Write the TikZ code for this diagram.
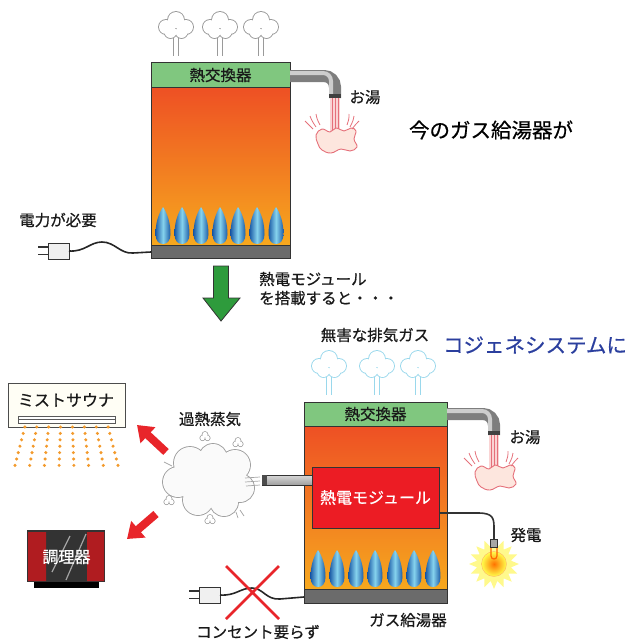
\documentclass[tikz,border=0pt]{standalone}
\usepackage{fontspec}
\setmainfont{Noto Sans CJK JP}[FakeBold=0.6]
\usetikzlibrary{arrows.meta,shapes.geometric}

\definecolor{hxgreen}{HTML}{80C77F}
\definecolor{hottop}{HTML}{EE5024}
\definecolor{hotbot}{HTML}{F6A81E}
\definecolor{basegray}{HTML}{6B6B6B}
\definecolor{flameblue}{HTML}{1C5BA6}
\definecolor{flamelight}{HTML}{86D3EE}
\definecolor{hotred}{HTML}{E8252A}
\definecolor{pipemid}{HTML}{7E7E7E}
\definecolor{pipelight}{HTML}{CDCDCD}
\definecolor{waterpink}{HTML}{E5707A}
\definecolor{streampink}{HTML}{FAD4D4}
\definecolor{splashfill}{HTML}{FDE6DE}
\definecolor{exhaustblue}{HTML}{9AD8EC}
\definecolor{smokegray}{HTML}{9A9A9A}
\definecolor{cogenblue}{HTML}{2B3F9E}
\definecolor{mistdot}{HTML}{F39A2C}
\definecolor{arrowgreen}{HTML}{2E9B3C}
\definecolor{modulered}{HTML}{EC1C24}
\definecolor{cookred}{HTML}{B01C20}
\definecolor{outline}{HTML}{333333}

% exhaust puff with a twin-line stem: centre x, centre y, colour
\newcommand\puffcloud[3]{%
  \draw[#3, line width=0.9] ({#1-2.5},{#2+9}) -- ({#1-2.5},{#2+29})
                            ({#1+2.5},{#2+9}) -- ({#1+2.5},{#2+29});
  \draw[#3, line width=1.8] (#1,{#2-7}) circle[radius=8] ({#1-10},#2) circle[radius=7]
     ({#1+10},#2) circle[radius=7] ({#1-5.5},{#2+5}) circle[radius=6] ({#1+5.5},{#2+5}) circle[radius=6];
  \fill[white] (#1,{#2-7}) circle[radius=8] ({#1-10},#2) circle[radius=7]
     ({#1+10},#2) circle[radius=7] ({#1-5.5},{#2+5}) circle[radius=6] ({#1+5.5},{#2+5}) circle[radius=6];
}
% burner flame: centre x, tip y, base y
\newcommand\burnerflame[3]{%
  \shade[left color=flameblue, right color=flameblue, middle color=flamelight]
    (#1,#2) .. controls ({#1+4},{#2+6}) and ({#1+7.5},{#3-22}) .. ({#1+7.5},{#3-10})
    .. controls ({#1+7.5},{#3-3}) and ({#1+4},#3) .. (#1,#3)
    .. controls ({#1-4},#3) and ({#1-7.5},{#3-3}) .. ({#1-7.5},{#3-10})
    .. controls ({#1-7.5},{#3-22}) and ({#1-4},{#2+6}) .. (#1,#2) -- cycle;
}
% small steam puff
\newcommand\tinypuff[2]{%
  \draw[smokegray, line width=1.4] (#1,{#2-2.5}) circle[radius=2.6] ({#1-2.5},{#2+1}) circle[radius=2.3] ({#1+2.5},{#2+1}) circle[radius=2.3];
  \fill[white] (#1,{#2-2.5}) circle[radius=2.6] ({#1-2.5},{#2+1}) circle[radius=2.3] ({#1+2.5},{#2+1}) circle[radius=2.3];
}
% hot water stream and splash, drawn for a spout ending at (335,98)
\newcommand\hotwater{%
  \fill[streampink] (330,98) rectangle (340,131);
  \draw[waterpink, line width=0.7] (332,98) -- (332,131) (335,98) -- (335,131) (338,98) -- (338,131);
  \draw[waterpink, line width=0.9, fill=splashfill] plot[smooth cycle, tension=0.7] coordinates
    {(316,135) (322,129) (330,132) (336,128) (344,131) (351,128) (356,131) (354,139)
     (357,147) (350,151) (341,149) (331,153) (322,150) (318,144)};
  \draw[waterpink, line width=0.8]
    (305,121) .. controls (308,124) .. (313,129)
    (310,116) .. controls (312,121) .. (316,127)
    (316,114) .. controls (317,119) .. (320,125)
    (349,114) .. controls (349,119) .. (347,125)
    (354,116) .. controls (353,121) .. (350,127)
    (359,121) .. controls (356,124) .. (352,129);
}
% power plug body with prongs: left x of body, centre y
\newcommand\powerplug[2]{%
  \draw[outline, line width=1.2] ({#1-10},{#2-4}) -- (#1,{#2-4}) ({#1-10},{#2+3.5}) -- (#1,{#2+3.5});
  \draw[outline, line width=0.8, fill=gray!12] (#1,{#2-8}) rectangle ({#1+21},{#2+8});
}

\tikzset{
  lbl/.style={font=\fontsize{15.5}{19}\selectfont, inner sep=0pt, text=black!90},
  biglbl/.style={font=\fontsize{20.5}{24}\selectfont, inner sep=0pt},
  heaterline/.style={draw=outline, line width=1},
  redarrow/.style={hotred, line width=8pt, -{Triangle[width=21pt,length=15pt]}},
  cable/.style={black!85, line width=1.6},
}

\begin{document}
\begin{tikzpicture}[x=1pt,y=-1pt]
\useasboundingbox (0,0) rectangle (635,642);

% ---------- conventional water heater ----------
\puffcloud{176}{27}{smokegray}
\puffcloud{220}{27}{smokegray}
\puffcloud{261}{27}{smokegray}

\shade[top color=hottop, bottom color=hotbot] (151,87) rectangle (290,245);
\fill[hxgreen] (151,63) rectangle (290,87);
\fill[basegray] (151,245) rectangle (290,258);
\foreach \cx in {163,182,201,220,238,257,276} {\burnerflame{\cx}{207}{244}}
\draw[heaterline] (151,63) rectangle (290,258) (151,87) -- (290,87) (151,245) -- (290,245);
\node[lbl] (hx1) at (220.5,75) {熱交換器};

% outlet pipe
\draw[pipemid, line width=12, rounded corners=11] (290,76) -- (335,76) -- (335,98);
\draw[pipelight, line width=4, rounded corners=8] (290,73) -- (331,73) -- (331,95);
\fill[black!75] (329,94) rectangle (341,98);
\hotwater
\node[lbl] (hot1) at (365,97) {お湯};

\node[biglbl] (title1) at (491,130) {今のガス給湯器が};

% mains plug
\node[lbl] (pw) at (58,220) {電力が必要};
\powerplug{48}{251}
\coordinate (plug1) at (69,251);
\coordinate (in1) at (151,252);
\draw[cable] (plug1) .. controls (85,252) and (90,242) .. (102,242)
  .. controls (115,242) and (120,254) .. (133,253) -- (in1);

% ---------- transition arrow ----------
\draw[outline, line width=0.8, fill=arrowgreen]
  (213.5,266) -- (228.5,266) -- (228.5,298) -- (240,298) -- (221,321) -- (203,298) -- (213.5,298) -- cycle;
\node[lbl, anchor=west, align=left] (step) at (259,288.5) {熱電モジュール\\を搭載すると・・・};

% ---------- cogeneration water heater ----------
\node[lbl] (clean) at (375,335) {無害な排気ガス};
\node[biglbl, text=cogenblue] (cogen) at (535,345) {コジェネシステムに};
\puffcloud{329}{366}{exhaustblue}
\puffcloud{377}{366}{exhaustblue}
\puffcloud{418}{366}{exhaustblue}

\shade[top color=hottop, bottom color=hotbot] (304,426) rectangle (447,589);
\fill[hxgreen] (304,402) rectangle (447,426);
\fill[basegray] (304,589) rectangle (447,603);
\foreach \cx in {318,337,356,375,395,414,433} {\burnerflame{\cx}{550}{587}}
\draw[heaterline] (304,402) rectangle (447,603) (304,426) -- (447,426) (304,589) -- (447,589);
\node[lbl] (hx2) at (375.5,414) {熱交換器};
\node[lbl] (heater) at (408,620) {ガス給湯器};

% thermoelectric module
\node[draw=outline, line width=1, fill=modulered, minimum width=127pt, minimum height=61pt,
      inner sep=0pt, font=\fontsize{16}{19}\selectfont, text=white] (tem) at (375.5,497.5) {熱電モジュール};

% outlet pipe
\draw[pipemid, line width=12, rounded corners=11] (447,414) -- (494,414) -- (494,435);
\draw[pipelight, line width=4, rounded corners=8] (447,411) -- (490,411) -- (490,432);
\fill[black!75] (488,431) rectangle (500,435);
\begin{scope}[shift={(159,337)}]
  \hotwater
\end{scope}
\node[lbl] (hot2) at (525,437) {お湯};

% generated power to the lamp
\node[star, star points=16, star point ratio=1.45, minimum size=50pt, inner sep=0pt,
      fill=yellow!45] (burst) at (494,564) {};
\shade[inner color=orange!90!red, outer color=yellow!70, draw=orange!60] (494,564) circle[radius=12.5];
\draw[orange!80!red, line width=1.2] (491,547) -- (491,556) .. controls (491,560) and (497,560) .. (497,556) -- (497,547);
\fill[gray!70, draw=gray!40!black, line width=0.5] (490.5,539) rectangle (497.5,547);
\coordinate (lamp) at (494,539);
\draw[outline, line width=1.6] (tem.east |- 0,513) -- (478,513)
  .. controls (493,513) and (494,518) .. (494,528) -- (lamp);
\node[lbl] (gen) at (526,535) {発電};

% mains plug no longer needed
\powerplug{199}{595}
\coordinate (plug2) at (220,595);
\coordinate (in2) at (304,597);
\draw[cable] (plug2) .. controls (236,596) and (240,588) .. (252,588)
  .. controls (263,588) and (266,600) .. (280,599) -- (in2);
\draw[hotred, line width=2.6] (226,566) -- (279,619) (279,566) -- (226,619);
\node[lbl] (noplug) at (258,632) {コンセント要らず};

% superheated steam pipe
\shade[top color=gray!30, bottom color=gray!75, draw=outline, line width=0.6] (262,475) rectangle (312,485);
\fill[black!70] (262,475) rectangle (267,485);

% superheated steam cloud
\begin{scope}
  \draw[gray!75, line width=1.8]
    (190,463) circle[radius=16] (213,458) circle[radius=14] (235,465) circle[radius=15]
    (178,482) circle[radius=15] (240,488) circle[radius=14] (198,500) circle[radius=15]
    (224,502) circle[radius=14];
  \fill[gray!4]
    (190,463) circle[radius=16] (213,458) circle[radius=14] (235,465) circle[radius=15]
    (178,482) circle[radius=15] (240,488) circle[radius=14] (198,500) circle[radius=15]
    (224,502) circle[radius=14] (208,480) circle[radius=22];
\end{scope}
\tinypuff{205}{437}
\tinypuff{238}{443}
\tinypuff{169}{501}
\tinypuff{210}{520}
\draw[gray!70, line width=0.7] (164,462) -- (172,466) (240,510) -- (244,516) (236,512) -- (238,518)
  (245,478) -- (260,477) (245,482) -- (260,481) (246,486) -- (260,485);
\node[lbl] (steam) at (210,419) {過熱蒸気};

% steam arrows
\coordinate (a1s) at (166,452);
\coordinate (a1e) at (137,425);
\coordinate (a2s) at (156,514);
\coordinate (a2e) at (127,539);
\draw[redarrow] (a1s) -- (a1e);
\draw[redarrow] (a2s) -- (a2e);

% mist sauna
\node[draw=gray!60!black, line width=0.8, fill=yellow!4!white, minimum width=117pt, minimum height=44pt,
      inner sep=0pt] (sauna) at (66.5,405) {};
\node[lbl, font=\fontsize{16}{19}\selectfont] (saunatxt) at (66,400) {ミストサウナ};
\draw[gray!70!black, line width=0.6, fill=white] (18,416.5) rectangle (115,423);
\draw[gray!70!black, line width=0.4] (18,419.5) -- (115,419.5);
\foreach \j in {0,...,6} {
  \foreach \i in {0,...,7} {
    \fill[mistdot] ({66.5+(\i-3.5)*(11.9+\j*0.47)},{427+\j*6.4}) circle[radius=1.7];
  }
}

% cooker
\fill[black] (34,582) rectangle (99,588);
\fill[black!80] (27,530) rectangle (105,582);
\fill[cookred] (28,532) rectangle (46,581) (87,532) rectangle (104,581);
\draw[white, opacity=0.55, line width=1.2] (52,572) -- (70,536) (66,580) -- (86,534);
\node[lbl, text=white, font=\fontsize{16}{19}\selectfont] (cook) at (66.5,557) {調理器};

\end{tikzpicture}
\end{document}
